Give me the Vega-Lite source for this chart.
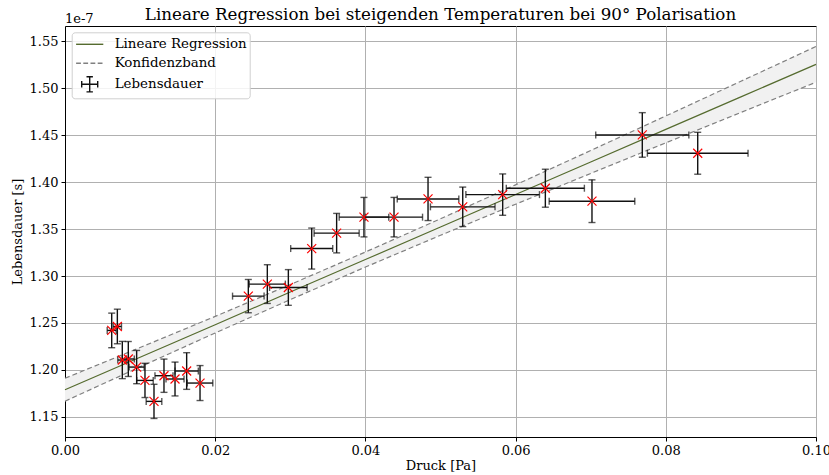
{
  "$schema": "https://vega.github.io/schema/vega-lite/v6.json",
  "autosize": {"type": "none"},
  "padding": {"left": 65, "top": 26, "right": 13, "bottom": 38},
  "width": 751,
  "height": 411,
  "background": "white",
  "title": {"text": "Lineare Regression bei steigenden Temperaturen bei 90° Polarisation", "font": "DejaVu Serif", "fontSize": 16.7, "fontWeight": "normal", "color": "black", "anchor": "middle", "offset": 4, "dy": 15},
  "config": {
    "view": {"stroke": "black", "strokeWidth": 1},
    "axis": {"labelFont": "DejaVu Serif", "labelFontSize": 13, "labelColor": "black", "titleFont": "DejaVu Serif", "titleFontSize": 13, "titleFontWeight": "normal", "titleColor": "black", "tickColor": "black", "domainColor": "black", "tickSize": 4, "labelPadding": 3, "labelFlush": false, "gridColor": "#b0b0b0", "gridWidth": 1}
  },
  "datasets": {
    "points": [
      {"x": 0.00622, "xlo": 0.00562, "xhi": 0.00682, "tau": 1.2421e-7, "taulo": 1.2237e-7, "tauhi": 1.2605e-7},
      {"x": 0.00697, "xlo": 0.00642, "xhi": 0.00752, "tau": 1.2463e-7, "taulo": 1.2279e-7, "tauhi": 1.2647e-7},
      {"x": 0.00763, "xlo": 0.00703, "xhi": 0.00823, "tau": 1.2106e-7, "taulo": 1.1908e-7, "tauhi": 1.2304e-7},
      {"x": 0.00843, "xlo": 0.00763, "xhi": 0.00923, "tau": 1.2117e-7, "taulo": 1.1931e-7, "tauhi": 1.2303e-7},
      {"x": 0.00954, "xlo": 0.00854, "xhi": 0.01054, "tau": 1.2031e-7, "taulo": 1.1854e-7, "tauhi": 1.2208e-7},
      {"x": 0.01065, "xlo": 0.00955, "xhi": 0.01175, "tau": 1.1889e-7, "taulo": 1.1707e-7, "tauhi": 1.2071e-7},
      {"x": 0.01185, "xlo": 0.01081, "xhi": 0.01289, "tau": 1.1666e-7, "taulo": 1.1484e-7, "tauhi": 1.1848e-7},
      {"x": 0.01318, "xlo": 0.01198, "xhi": 0.01438, "tau": 1.1939e-7, "taulo": 1.1762e-7, "tauhi": 1.2116e-7},
      {"x": 0.01465, "xlo": 0.01345, "xhi": 0.01585, "tau": 1.1904e-7, "taulo": 1.1724e-7, "tauhi": 1.2084e-7},
      {"x": 0.0162, "xlo": 0.01465, "xhi": 0.01775, "tau": 1.1989e-7, "taulo": 1.1794e-7, "tauhi": 1.2184e-7},
      {"x": 0.01798, "xlo": 0.01628, "xhi": 0.01968, "tau": 1.1861e-7, "taulo": 1.1675e-7, "tauhi": 1.2047e-7},
      {"x": 0.02441, "xlo": 0.02231, "xhi": 0.02651, "tau": 1.2786e-7, "taulo": 1.2609e-7, "tauhi": 1.2963e-7},
      {"x": 0.02694, "xlo": 0.02454, "xhi": 0.02934, "tau": 1.2914e-7, "taulo": 1.2708e-7, "tauhi": 1.3120e-7},
      {"x": 0.02974, "xlo": 0.02724, "xhi": 0.03224, "tau": 1.2878e-7, "taulo": 1.2688e-7, "tauhi": 1.3068e-7},
      {"x": 0.03285, "xlo": 0.03005, "xhi": 0.03565, "tau": 1.3292e-7, "taulo": 1.3074e-7, "tauhi": 1.3510e-7},
      {"x": 0.03617, "xlo": 0.03317, "xhi": 0.03917, "tau": 1.3456e-7, "taulo": 1.3246e-7, "tauhi": 1.3666e-7},
      {"x": 0.03981, "xlo": 0.03651, "xhi": 0.04311, "tau": 1.3626e-7, "taulo": 1.3416e-7, "tauhi": 1.3836e-7},
      {"x": 0.04381, "xlo": 0.04001, "xhi": 0.04761, "tau": 1.3626e-7, "taulo": 1.3416e-7, "tauhi": 1.3836e-7},
      {"x": 0.04834, "xlo": 0.04424, "xhi": 0.05244, "tau": 1.382e-7, "taulo": 1.359e-7, "tauhi": 1.405e-7},
      {"x": 0.05296, "xlo": 0.04866, "xhi": 0.05726, "tau": 1.3736e-7, "taulo": 1.3526e-7, "tauhi": 1.3946e-7},
      {"x": 0.05828, "xlo": 0.05338, "xhi": 0.06318, "tau": 1.3866e-7, "taulo": 1.3646e-7, "tauhi": 1.4086e-7},
      {"x": 0.06396, "xlo": 0.05876, "xhi": 0.06916, "tau": 1.3934e-7, "taulo": 1.3732e-7, "tauhi": 1.4136e-7},
      {"x": 0.07017, "xlo": 0.06447, "xhi": 0.07587, "tau": 1.3796e-7, "taulo": 1.3569e-7, "tauhi": 1.4023e-7},
      {"x": 0.07687, "xlo": 0.07067, "xhi": 0.08307, "tau": 1.4501e-7, "taulo": 1.4264e-7, "tauhi": 1.4738e-7},
      {"x": 0.08425, "xlo": 0.07755, "xhi": 0.09095, "tau": 1.4306e-7, "taulo": 1.4083e-7, "tauhi": 1.4529e-7}
    ],
    "fit": [
      {"x": 0.0, "fit": 1.179e-7, "lo": 1.1668e-7, "hi": 1.1912e-7},
      {"x": 0.01, "fit": 1.2136e-7, "lo": 1.2033e-7, "hi": 1.2239e-7},
      {"x": 0.02, "fit": 1.2482e-7, "lo": 1.2394e-7, "hi": 1.2570e-7},
      {"x": 0.03, "fit": 1.2829e-7, "lo": 1.2749e-7, "hi": 1.2909e-7},
      {"x": 0.04, "fit": 1.3175e-7, "lo": 1.3095e-7, "hi": 1.3255e-7},
      {"x": 0.05, "fit": 1.3521e-7, "lo": 1.3433e-7, "hi": 1.3609e-7},
      {"x": 0.06, "fit": 1.3867e-7, "lo": 1.3764e-7, "hi": 1.3970e-7},
      {"x": 0.07, "fit": 1.4213e-7, "lo": 1.4091e-7, "hi": 1.4335e-7},
      {"x": 0.08, "fit": 1.4560e-7, "lo": 1.4417e-7, "hi": 1.4703e-7},
      {"x": 0.09, "fit": 1.4906e-7, "lo": 1.4740e-7, "hi": 1.5072e-7},
      {"x": 0.1, "fit": 1.5252e-7, "lo": 1.5062e-7, "hi": 1.5442e-7}
    ],
    "legend": [
      {"series": "Lineare Regression", "series2": "Lineare Regression"},
      {"series": "Konfidenzband", "series2": "Konfidenzband"},
      {"series": "Lebensdauer", "series2": "Lebensdauer"}
    ],
    "offset": [{"t": "1e-7"}]
  },
  "layer": [
    {
      "data": {"name": "fit"},
      "mark": {"type": "area", "color": "#f1f1f1"},
      "encoding": {
        "x": {"field": "x", "type": "quantitative", "scale": {"domain": [0, 0.1], "nice": false, "zero": false}, "axis": {"title": "Druck [Pa]", "values": [0, 0.02, 0.04, 0.06, 0.08, 0.1], "format": ".2f", "grid": true, "titlePadding": 2, "encode": {"labels": {"update": {"dx": {"signal": "datum.value > 0.09 ? -5 : 0"}}}}}},
        "y": {"field": "lo", "type": "quantitative", "scale": {"domain": [1.1287e-7, 1.566e-7], "nice": false, "zero": false}, "axis": {"title": "Lebensdauer [s]", "values": [1.15e-7, 1.2e-7, 1.25e-7, 1.3e-7, 1.35e-7, 1.4e-7, 1.45e-7, 1.5e-7, 1.55e-7], "labelExpr": "format(datum.value*1e7, '.2f')", "grid": true, "titlePadding": 5}},
        "y2": {"field": "hi"}
      }
    },
    {
      "data": {"name": "fit"},
      "mark": {"type": "line", "color": "#808080", "strokeWidth": 1.2, "strokeDash": [5, 3]},
      "encoding": {"x": {"field": "x", "type": "quantitative"}, "y": {"field": "lo", "type": "quantitative"}}
    },
    {
      "data": {"name": "fit"},
      "mark": {"type": "line", "color": "#808080", "strokeWidth": 1.2, "strokeDash": [5, 3]},
      "encoding": {"x": {"field": "x", "type": "quantitative"}, "y": {"field": "hi", "type": "quantitative"}}
    },
    {
      "data": {"name": "fit"},
      "mark": {"type": "line", "color": "#556b2f", "strokeWidth": 1.2},
      "encoding": {"x": {"field": "x", "type": "quantitative"}, "y": {"field": "fit", "type": "quantitative"}}
    },
    {
      "data": {"name": "points"},
      "mark": {"type": "rule", "color": "#111111", "strokeWidth": 1.4},
      "encoding": {"x": {"field": "x", "type": "quantitative"}, "y": {"field": "taulo", "type": "quantitative"}, "y2": {"field": "tauhi"}}
    },
    {
      "data": {"name": "points"},
      "mark": {"type": "rule", "color": "#111111", "strokeWidth": 1.4},
      "encoding": {"y": {"field": "tau", "type": "quantitative"}, "x": {"field": "xlo", "type": "quantitative"}, "x2": {"field": "xhi"}}
    },
    {
      "data": {"name": "points"},
      "mark": {"type": "tick", "orient": "horizontal", "color": "#111111", "size": 7, "thickness": 1.4},
      "encoding": {"x": {"field": "x", "type": "quantitative"}, "y": {"field": "taulo", "type": "quantitative"}}
    },
    {
      "data": {"name": "points"},
      "mark": {"type": "tick", "orient": "horizontal", "color": "#111111", "size": 7, "thickness": 1.4},
      "encoding": {"x": {"field": "x", "type": "quantitative"}, "y": {"field": "tauhi", "type": "quantitative"}}
    },
    {
      "data": {"name": "points"},
      "mark": {"type": "tick", "orient": "vertical", "color": "#111111", "size": 7, "thickness": 1.4},
      "encoding": {"x": {"field": "xlo", "type": "quantitative"}, "y": {"field": "tau", "type": "quantitative"}}
    },
    {
      "data": {"name": "points"},
      "mark": {"type": "tick", "orient": "vertical", "color": "#111111", "size": 7, "thickness": 1.4},
      "encoding": {"x": {"field": "xhi", "type": "quantitative"}, "y": {"field": "tau", "type": "quantitative"}}
    },
    {
      "data": {"name": "points"},
      "mark": {"type": "point", "shape": "M-1,-1L1,1M-1,1L1,-1", "filled": false, "color": "#ff0000", "size": 81, "strokeWidth": 1.2, "opacity": 1},
      "encoding": {"x": {"field": "x", "type": "quantitative"}, "y": {"field": "tau", "type": "quantitative"}}
    },
    {
      "data": {"name": "offset"},
      "mark": {"type": "text", "align": "left", "baseline": "alphabetic", "dy": -3, "font": "DejaVu Serif", "fontSize": 13, "color": "black"},
      "encoding": {"x": {"datum": 0}, "y": {"datum": 1.566e-7}, "text": {"field": "t"}}
    },
    {
      "data": {"name": "legend"},
      "mark": {"type": "point", "filled": false, "opacity": 0},
      "encoding": {
        "x": {"datum": 0.05}, "y": {"datum": 1.3e-7},
        "color": {"field": "series", "type": "nominal", "scale": {"domain": ["Lineare Regression", "Konfidenzband", "Lebensdauer"], "range": ["#556b2f", "#808080", "#111111"]},
          "legend": {"title": null, "orient": "none", "legendX": 6.7, "legendY": 6.3, "direction": "vertical", "zindex": 1, "fillColor": "rgba(255,255,255,0.85)", "strokeColor": "#d0d0d0", "cornerRadius": 3, "padding": 3, "symbolSize": 256, "symbolStrokeWidth": 1.4, "symbolOpacity": 1, "symbolOffset": 6, "labelOffset": 16, "rowPadding": 3, "labelFont": "DejaVu Serif", "labelFontSize": 13.4, "labelColor": "black", "labelLimit": 300}},
        "shape": {"field": "series", "type": "nominal", "scale": {"domain": ["Lineare Regression", "Konfidenzband", "Lebensdauer"], "range": ["M-1.7,0H1.7", "M-1.7,0H-1.1M-0.8,0H-0.2M0.1,0H0.7M1.0,0H1.6", "M-1,0H1M0,-0.95V0.95M-1,-0.4V0.4M1,-0.4V0.4M-0.4,-0.95H0.4M-0.4,0.95H0.4"]}}
      }
    },
    {
      "data": {"name": "legend"},
      "mark": {"type": "point", "filled": false, "opacity": 0, "shape": "M-0.6,-0.6L0.6,0.6M-0.6,0.6L0.6,-0.6"},
      "encoding": {
        "x": {"datum": 0.05}, "y": {"datum": 1.3e-7},
        "stroke": {"field": "series2", "type": "nominal", "scale": {"domain": ["Lineare Regression", "Konfidenzband", "Lebensdauer"], "range": ["rgba(0,0,0,0)", "rgba(0,0,0,0)", "#ff0000"]},
          "legend": {"title": null, "orient": "none", "legendX": 6.7, "legendY": 6.3, "direction": "vertical", "zindex": 2, "padding": 3, "symbolSize": 256, "symbolType": "M-0.6,-0.6L0.6,0.6M-0.6,0.6L0.6,-0.6", "symbolStrokeWidth": 1.2, "symbolOpacity": 1, "symbolOffset": 6, "labelOffset": 16, "rowPadding": 3, "labelFont": "DejaVu Serif", "labelFontSize": 13.4, "labelColor": "rgba(0,0,0,0)", "labelLimit": 300}}
      }
    }
  ]
}
